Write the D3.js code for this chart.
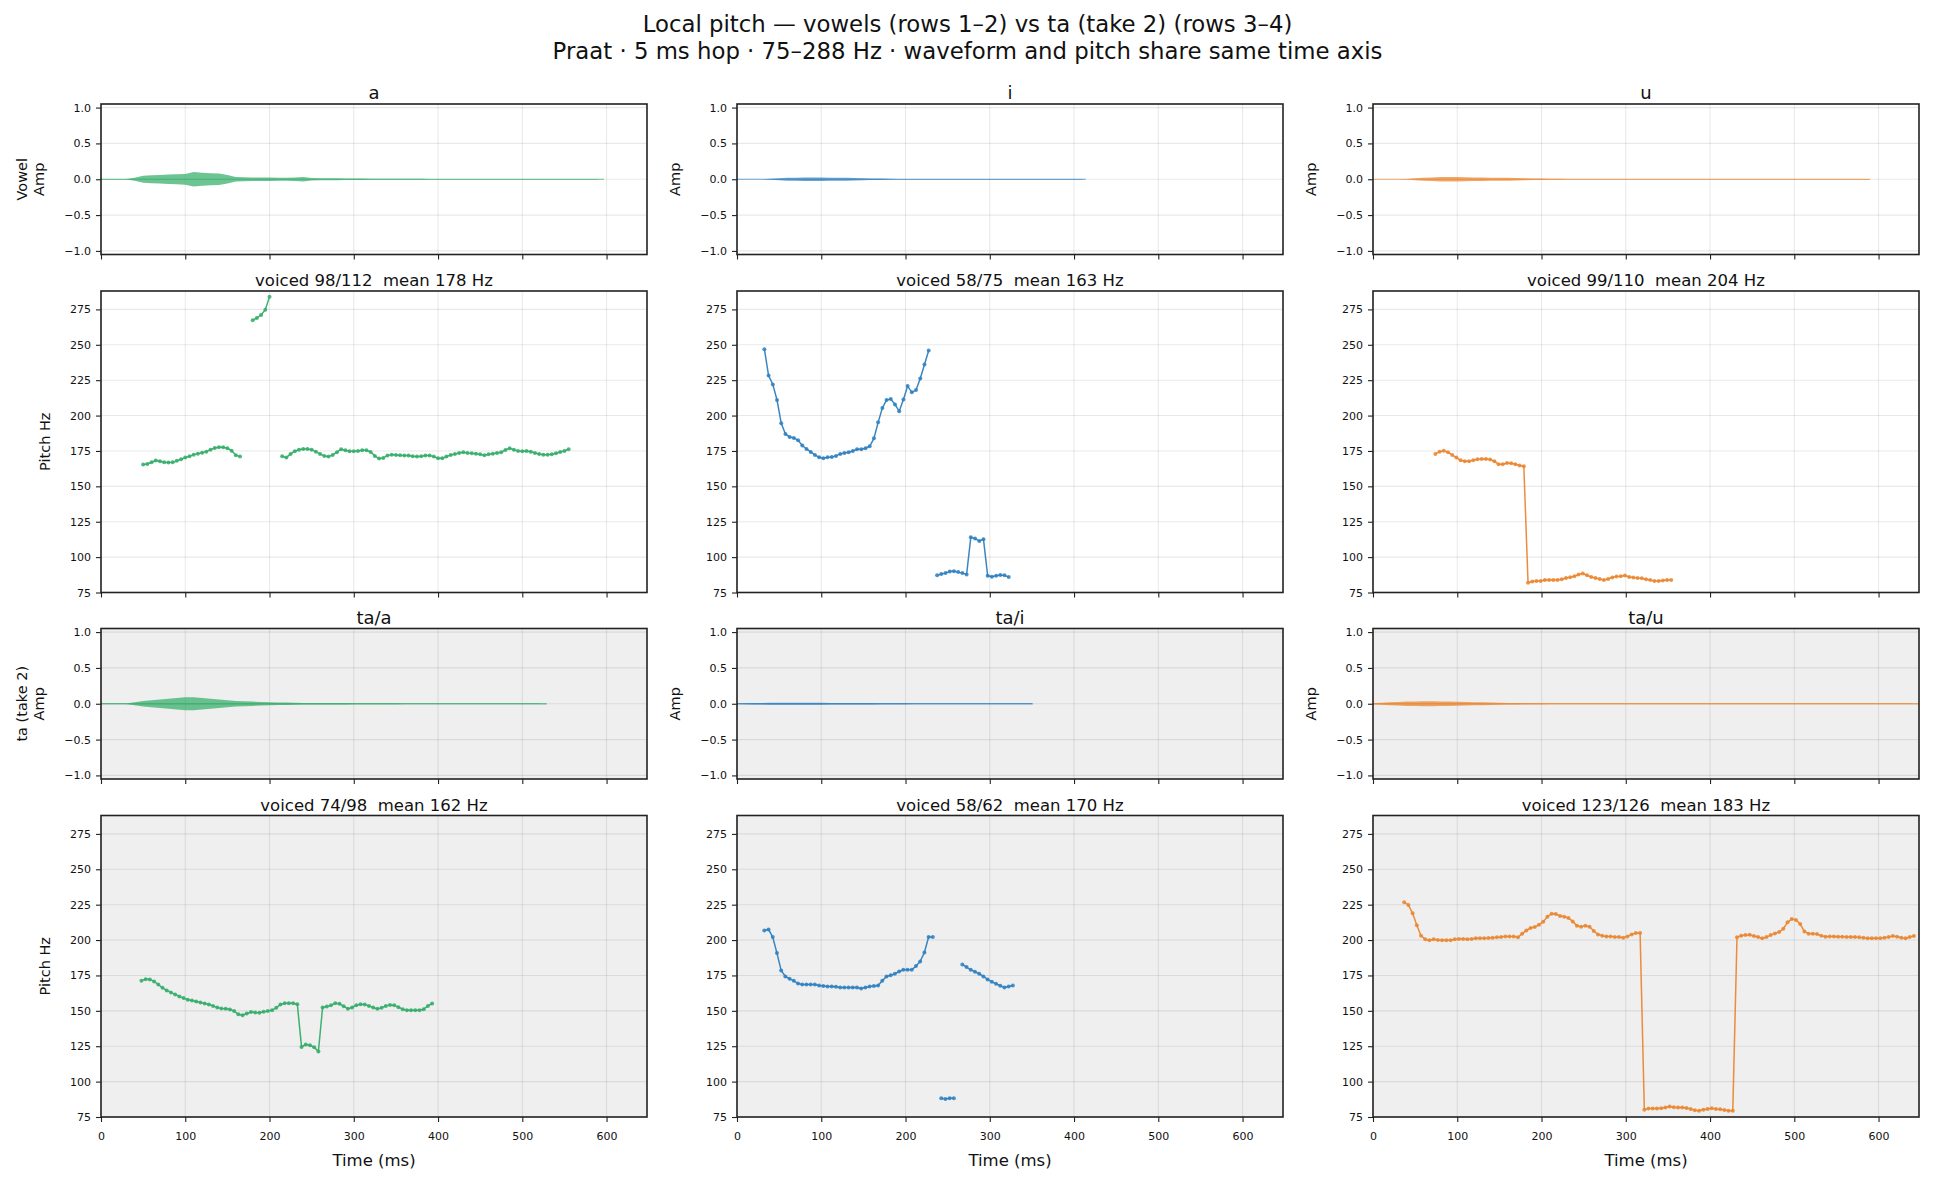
<!DOCTYPE html>
<html><head><meta charset="utf-8">
<script src="https://cdn.jsdelivr.net/npm/d3@7"></script>
<style>
body{margin:0;background:#fff;}
svg text{font-family:"DejaVu Sans",sans-serif;fill:#111;white-space:pre;}
</style></head><body>
<svg id="chart" width="1935" height="1186"></svg>
<script>
// ---------------- DATA ----------------
const hopMs = 5;
const envStepMs = 10;
const timeTicks = [0, 100, 200, 300, 400, 500, 600];
const ampTicks = [-1, -0.5, 0, 0.5, 1];
const pitchTicks = [75, 100, 125, 150, 175, 200, 225, 250, 275];
const vowelTitles = ["a", "i", "u"];
const taTitles = ["ta/a", "ta/i", "ta/u"];
const vowelStats = ["voiced 98/112  mean 178 Hz", "voiced 58/75  mean 163 Hz", "voiced 99/110  mean 204 Hz"];
const taStats = ["voiced 74/98  mean 162 Hz", "voiced 58/62  mean 170 Hz", "voiced 123/126  mean 183 Hz"];
const seriesColors = ["#34ad6a", "#2f80bf", "#ea8630"];

// pitch tracks (Hz); start time in ms, one value per 5 ms hop, null = unvoiced
const pitchA_start = 50;
const pitchA = [165.4,165.8,167,168.2,167.7,167,166.8,167,168,169.1,170.3,171.2,172.4,173.1,173.8,174.5,175.9,177.1,177.6,177.6,176.9,175.2,172,171,
  null,null,267.4,269,271,274.8,284,null,null,
  171.2,170.3,172.9,174.8,175.9,176.4,176.4,175.9,174.5,172.9,171.5,171,172.2,174.1,176.2,175.5,174.8,174.8,175,175.5,175.5,174.3,171.5,169.6,170.1,171.7,172.4,172.2,171.9,171.7,171.7,171.2,171,171.2,171.7,171.7,171,169.8,169.8,171,172.2,172.9,173.6,174.1,173.6,173.4,173.1,172.7,171.9,172.7,173.1,173.6,174.1,175.7,176.9,175.9,175,174.8,175,174.5,173.6,172.9,172.4,172.4,172.7,173.4,174.3,175,176.2];
const pitchI_start = 32.5;
const pitchI = [246.9,228.3,222,211,194.5,187,184.9,184.2,182.5,178.8,176.4,174.3,172.2,170.5,169.8,170.5,170.8,171.5,172.9,173.6,174.1,175,176.2,176.2,176.9,178.3,183.9,195.2,205.3,211,211.7,207.9,203,211.4,220.8,216.4,218,226.2,236.1,246,
  null,
  87.1,88,88.7,89.9,90.1,89.4,88.7,87.8,114.1,113.2,111.3,112.7,86.8,86.1,86.8,87.3,87.1,85.9];
const pitchU_start = 74;
const pitchU = [172.9,174.5,175.2,174,172.2,170.3,168.4,167.7,167.7,168.4,169.1,169.3,169.3,168.9,167.7,165.6,165.6,166.5,166.3,165.6,164.8,164.2,
  81.8,82.7,83.2,83.2,83.9,83.9,83.9,83.9,84.4,85.3,85.8,86.5,87.7,88.4,87.2,86,85.3,84.6,83.9,84.6,85.6,86.3,86.5,87,86,85.6,85.3,85.1,84.4,83.9,83.2,83.2,83.5,83.9,83.9];
const pitchTaA_start = 48;
const pitchTaA = [171.2,172.4,172.2,170.8,168.6,166.3,164.4,163,161.6,160.2,159,157.8,157.3,156.6,155.9,155.2,154.5,153.5,152.4,151.6,151.4,150.9,149.8,147.6,146.9,148.1,149.1,148.8,148.6,149.3,149.8,150.5,152.1,154.5,155.4,155.4,155.4,154.7,
  124.5,126.2,125.7,124.3,121.2,
  152.4,153.1,154,155.4,155,153.3,151.4,152.4,154,154.7,154.5,153.5,152.4,151.4,152.1,153.5,154.2,154,152.6,151.2,150.5,150.5,150.5,150.5,151.2,153.5,155.2];
const pitchTaI_start = 32.4;
const pitchTaI = [206.8,207.5,202.1,190.8,178.5,174.3,172.6,171.2,169.3,168.6,168.6,168.6,168.6,167.9,167.6,167.2,167.2,167,166.5,166.5,166.5,166.5,166.5,165.8,166.5,167.2,167.5,167.9,171.2,174.3,175.2,176.2,177.8,179,179,179,181.6,184.9,191.2,202.1,202.1,
  null,88.2,87.7,88.2,88.2,null,
  182.8,180.9,179,177.6,176.2,174.3,172.2,170.5,169.1,167.7,166.5,167.2,167.9];
const pitchTaU_start = 37;
const pitchTaU = [226.7,224.8,218.9,210.4,203.1,200.5,199.8,200.5,200,199.8,199.8,199.8,200.5,200.7,200.7,200.5,200.7,201.2,201.2,201.2,201.4,201.7,201.9,202.1,202.6,202.6,202.6,201.9,204.5,206.8,208.5,209.2,210.8,213,216.5,218.6,218.4,217,216.5,215.6,213.2,210.1,209.4,210.1,209.4,206.4,204,203.1,202.6,202.6,202.1,202.1,201.7,202.6,204,205,205,
  80.2,81,81,81,81.2,81.7,82.4,81.9,81.7,81.7,81.4,80.7,79.8,79.5,80.2,80.7,81.2,80.7,80.5,80,79.5,79.5,
  201.9,203.1,203.5,203.8,202.8,202.1,201.2,202.1,203.5,204.7,205.7,208,212.5,214.9,214.2,211.3,206.1,204.5,204.5,204.2,203.1,202.4,202.6,202.6,202.4,202.4,202.1,202.1,202.1,201.9,201.7,201.2,201.2,201.2,201.2,201.7,202.1,202.8,202.4,201.7,201.2,202.1,202.8];

// waveform envelopes (peak |amplitude| per 10 ms bin, from t = 0) and clip durations (ms)
const waveA = [0.002,0.002,0.002,0.003,0.02,0.05,0.055,0.06,0.065,0.07,0.075,0.1,0.09,0.085,0.08,0.06,0.03,0.028,0.025,0.025,0.025,0.022,0.022,0.025,0.03,0.018,0.015,0.014,0.013,0.012,0.011,0.009,0.008,0.008,0.008,0.007,0.007,0.006,0.006,0.005,0.004,0.004,0.004,0.004,0.004,0.004,0.004,0.004,0.004,0.004,0.003,0.003,0.003,0.003,0.003,0.003,0.003,0.003,0.003,0.003];
const waveI = [0.001,0.001,0.001,0.001,0.008,0.015,0.02,0.022,0.025,0.025,0.025,0.022,0.02,0.02,0.018,0.015,0.012,0.01,0.008,0.005,0.004,0.003,0.002,0.002,0.002,0.002,0.002,0.002,0.002,0.002,0.002,0.002,0.002,0.002,0.002,0.002,0.002,0.002,0.002,0.002,0.002,0.002];
const waveU = [0.001,0.001,0.001,0.001,0.005,0.015,0.02,0.025,0.03,0.03,0.03,0.028,0.025,0.025,0.022,0.02,0.02,0.018,0.015,0.012,0.01,0.008,0.006,0.005,0.004,0.003,0.003,0.002,0.002,0.002,0.002,0.002,0.002,0.002,0.002,0.002,0.002,0.002,0.002,0.002,0.002,0.002,0.002,0.002,0.002,0.002,0.002,0.002,0.002,0.002,0.002,0.002,0.002,0.002,0.002,0.002,0.002,0.002,0.002,0.002];
const waveTaA = [0.002,0.002,0.002,0.002,0.02,0.04,0.05,0.06,0.07,0.08,0.09,0.09,0.08,0.07,0.06,0.05,0.04,0.035,0.03,0.025,0.02,0.018,0.016,0.014,0.012,0.012,0.01,0.01,0.01,0.009,0.008,0.008,0.007,0.007,0.006,0.006,0.005,0.005,0.005,0.004,0.004,0.004,0.004,0.004,0.004,0.004,0.004,0.004,0.004,0.004,0.004,0.004,0.004];
const waveTaI = [0.003,0.008,0.01,0.012,0.014,0.015,0.015,0.015,0.014,0.014,0.013,0.012,0.012,0.011,0.01,0.01,0.009,0.008,0.008,0.007,0.006,0.005,0.004,0.004,0.003,0.002,0.002,0.002,0.002,0.002,0.002,0.002,0.002,0.002,0.002,0.002];
const waveTaU = [0.01,0.015,0.02,0.025,0.03,0.032,0.035,0.035,0.033,0.03,0.028,0.025,0.022,0.02,0.018,0.015,0.012,0.01,0.008,0.007,0.006,0.005,0.004,0.004,0.003,0.003,0.003,0.003,0.003,0.003,0.003,0.003,0.003,0.003,0.003,0.003,0.003,0.003,0.003,0.003,0.003,0.003,0.003,0.003,0.003,0.003,0.003,0.003,0.003,0.003,0.003,0.003,0.003,0.003,0.003,0.003,0.003,0.003,0.003,0.003,0.003,0.003,0.003,0.003,0.003];
const waveDurations = [597, 414, 590, 529, 351, 648];

// ---------------- LAYOUT ----------------
const svg = d3.select("#chart");
const colLeft = [101, 737, 1373], colW = 546;
const rowDefs = [
  {top: 104, h: 150.5, kind: "wave", bg: "#ffffff"},
  {top: 291, h: 301.5, kind: "pitch", bg: "#ffffff"},
  {top: 628.5, h: 150.5, kind: "wave", bg: "#efefef"},
  {top: 815.5, h: 301.5, kind: "pitch", bg: "#efefef"}
];
const xScale = d3.scaleLinear().domain([0, 648]).range([0, colW]);

const pitchSets = [
  [[pitchA_start, pitchA], [pitchI_start, pitchI], [pitchU_start, pitchU]],
  [[pitchTaA_start, pitchTaA], [pitchTaI_start, pitchTaI], [pitchTaU_start, pitchTaU]]
];
const waveSets = [[waveA, waveI, waveU], [waveTaA, waveTaI, waveTaU]];

// suptitle
svg.append("text").attr("x", 967.5).attr("y", 32).attr("text-anchor", "middle")
  .style("font-size", "22.8px").text("Local pitch — vowels (rows 1–2) vs ta (take 2) (rows 3–4)");
svg.append("text").attr("x", 967.5).attr("y", 59).attr("text-anchor", "middle")
  .style("font-size", "22.8px").text("Praat · 5 ms hop · 75–288 Hz · waveform and pitch share same time axis");

const fmtAmp = d => (d < 0 ? "\u2212" : "") + Math.abs(d).toFixed(1);

rowDefs.forEach((row, ri) => {
  const group = ri < 2 ? 0 : 1;
  for (let ci = 0; ci < 3; ci++) {
    const g = svg.append("g").attr("transform", `translate(${colLeft[ci]},${row.top})`);
    const isWave = row.kind === "wave";
    const y = isWave
      ? d3.scaleLinear().domain([-1.05, 1.05]).range([row.h, 0])
      : d3.scaleLinear().domain([75, 288]).range([row.h, 0]);
    const yTicks = isWave ? ampTicks : pitchTicks;
    const clipId = `clip${ri}${ci}`;
    g.append("clipPath").attr("id", clipId).append("rect").attr("width", colW).attr("height", row.h);

    g.append("rect").attr("width", colW).attr("height", row.h).attr("fill", row.bg);
    // grid
    const grid = g.append("g").attr("stroke", "#000").attr("stroke-opacity", 0.085).attr("stroke-width", 1.1);
    timeTicks.forEach(t => grid.append("line").attr("x1", xScale(t)).attr("x2", xScale(t)).attr("y1", 0).attr("y2", row.h));
    yTicks.forEach(v => grid.append("line").attr("x1", 0).attr("x2", colW).attr("y1", y(v)).attr("y2", y(v)));

    const color = seriesColors[ci];
    const data = g.append("g").attr("clip-path", `url(#${clipId})`);
    if (isWave) {
      const env = waveSets[group][ci];
      const dur = waveDurations[group * 3 + ci];
      const pts = env.map((e, i) => ({t: i * envStepMs, e}));
      const area = d3.area().x(d => xScale(d.t)).y0(d => y(-d.e)).y1(d => y(d.e)).curve(d3.curveLinear);
      data.append("path").datum(pts).attr("d", area).attr("fill", color).attr("fill-opacity", 0.72);
      data.append("line").attr("x1", xScale(0)).attr("x2", xScale(dur)).attr("y1", y(0)).attr("y2", y(0))
        .attr("stroke", color).attr("stroke-opacity", 0.7).attr("stroke-width", group === 1 ? 1.6 : 1);
    } else {
      const [t0, vals] = pitchSets[group][ci];
      const pts = vals.map((v, i) => ({t: t0 + i * hopMs, v}));
      const line = d3.line().defined(d => d.v !== null).x(d => xScale(d.t)).y(d => y(d.v));
      data.append("path").datum(pts).attr("d", line).attr("fill", "none").attr("stroke", color)
        .attr("stroke-width", 1.5).attr("stroke-opacity", 0.95);
      data.selectAll("circle").data(pts.filter(d => d.v !== null)).join("circle")
        .attr("cx", d => xScale(d.t)).attr("cy", d => y(d.v)).attr("r", 2)
        .attr("fill", color).attr("fill-opacity", 0.85);
    }

    // axes
    const yAxis = d3.axisLeft(y).tickValues(yTicks).tickSize(5).tickPadding(5)
      .tickFormat(isWave ? fmtAmp : d3.format("d"));
    const ya = g.append("g").call(yAxis);
    const xAxis = d3.axisBottom(xScale).tickValues(timeTicks).tickSize(5).tickPadding(10)
      .tickFormat(ri === 3 ? d3.format("d") : () => "");
    const xa = g.append("g").attr("transform", `translate(0,${row.h})`).call(xAxis);
    [ya, xa].forEach(a => {
      a.select(".domain").remove();
      a.selectAll(".tick line").attr("stroke", "#222").attr("stroke-width", 1.1);
      a.selectAll(".tick text").style("font-size", "11px").attr("fill", "#111").style("font-family", "DejaVu Sans");
    });

    // frame
    g.append("rect").attr("width", colW).attr("height", row.h).attr("fill", "none")
      .attr("stroke", "#222").attr("stroke-width", 1.6);

    // titles
    const title = ri === 0 ? vowelTitles[ci] : ri === 2 ? taTitles[ci] : ri === 1 ? vowelStats[ci] : taStats[ci];
    g.append("text").attr("x", colW / 2).attr("y", -5).attr("text-anchor", "middle")
      .attr("xml:space", "preserve")
      .style("font-size", isWave ? "18px" : "16.5px").text(title);

    // y labels
    if (isWave) {
      const lines = ci === 0 ? (ri === 0 ? ["Vowel", "Amp"] : ["ta (take 2)", "Amp"]) : ["Amp"];
      lines.forEach((txt, li) => {
        const cx = -62 - (lines.length - 1 - li) * 17.5;
        g.append("text").attr("transform", `translate(${cx},${row.h / 2}) rotate(-90)`)
          .attr("text-anchor", "middle").attr("dy", "0.35em").style("font-size", "14.5px").text(txt);
      });
    } else if (ci === 0) {
      g.append("text").attr("transform", `translate(-56,${row.h / 2}) rotate(-90)`)
        .attr("text-anchor", "middle").attr("dy", "0.35em").style("font-size", "14.5px").text("Pitch Hz");
    }
    if (ri === 3) {
      g.append("text").attr("x", colW / 2).attr("y", row.h + 49).attr("text-anchor", "middle")
        .style("font-size", "16.5px").text("Time (ms)");
    }
  }
});
</script>
</body></html>
